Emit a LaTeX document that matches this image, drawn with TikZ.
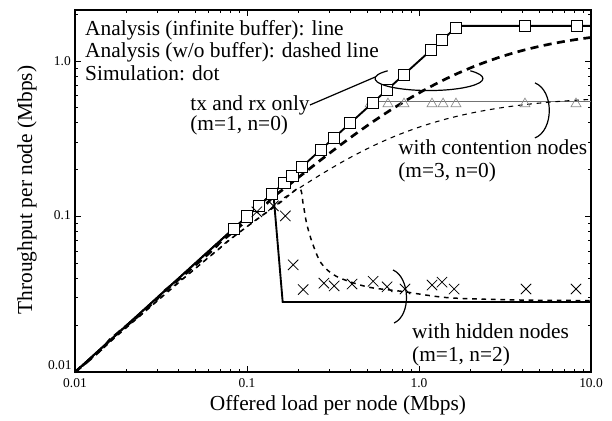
\documentclass[tikz,border=0pt]{standalone}
\usepackage{fontspec}
\setmainfont{Liberation Serif}
\usetikzlibrary{positioning, calc, shapes.misc, shapes.geometric}

\begin{document}
\begin{tikzpicture}[
    x=4.496cm, y=4.065cm,
    font=\fontsize{15.9}{16.8}\selectfont,
    declare function={lv(\v)=log10(\v)+2;},
    % Styles
    lbl/.style={inner sep=0pt, align=left},
    ticklbl/.style={font=\fontsize{10}{12}\selectfont, inner sep=0pt},
    tick/.style={line width=0.6pt},
    infbuf/.style={line width=1.4pt},
    nobuf/.style={line width=2pt, dash pattern=on 6pt off 4pt},
    nobufthin/.style={line width=0.8pt, dash pattern=on 3.5pt off 3.5pt},
    squaremark/.style={draw, fill=white, rectangle, minimum size=0.29cm, inner sep=0pt, line width=0.6pt},
    crossmark/.style={draw, cross out, minimum size=0.25cm, inner sep=0pt, line width=0.6pt},
    trianglemark/.style={draw=black!45, regular polygon, regular polygon sides=3, minimum size=0.3cm, inner sep=0pt, line width=0.5pt},
    brace/.style={line width=0.9pt}
]

    \useasboundingbox (-0.436,-0.315) rectangle (3.122,2.392);

    % --- Frame and ticks ---
    \draw[line width=1.2pt] (0,0) rectangle (3,2.328);
    \foreach \d in {0,1,2} {
        \foreach \k in {2,...,9} {
            \draw[tick] ({\d+log10(\k)},0) -- ++(0,0.02);
            \draw[tick] ({\d+log10(\k)},2.328) -- ++(0,-0.02);
        }
    }
    \foreach \d in {1,2} {
        \draw[tick] (\d,0) -- ++(0,0.04);
        \draw[tick] (\d,2.328) -- ++(0,-0.04);
        \draw[tick] (0,\d) -- ++(0.036,0);
        \draw[tick] (3,\d) -- ++(-0.036,0);
    }
    \foreach \d in {0,1} {
        \foreach \k in {2,...,9} {
            \draw[tick] (0,{\d+log10(\k)}) -- ++(0.018,0);
            \draw[tick] (3,{\d+log10(\k)}) -- ++(-0.018,0);
        }
    }
    \draw[tick] (0,{2+log10(2)}) -- ++(0.018,0);
    \draw[tick] (3,{2+log10(2)}) -- ++(-0.018,0);

    % --- Tick labels ---
    \node[ticklbl] (xt0) at (0,-0.071) {0.01};
    \node[ticklbl] (xt1) at (1,-0.071) {0.1};
    \node[ticklbl] (xt2) at (2,-0.071) {1.0};
    \node[ticklbl] (xt3) at (3,-0.071) {10.0};
    \node[ticklbl, anchor=east] (yt0) at (-0.018,0.045) {0.01};
    \node[ticklbl, anchor=east] (yt1) at (-0.023,1.01) {0.1};
    \node[ticklbl, anchor=east] (yt2) at (-0.023,2.0) {1.0};

    % --- Axis titles ---
    \node (xlabel) at (1.529,-0.212) {Offered load per node (Mbps)};
    \node[rotate=90] (ylabel) at (-0.279,1.17) {Throughput per node (Mbps)};

    % --- Analysis, infinite buffer ---
    \draw[infbuf] ({lv(0.01)},{lv(0.01)}) -- ({lv(1.68)},{lv(1.68)}) -- ({lv(10)},{lv(1.68)});
    \draw[line width=0.8pt, black!55] ({lv(0.55)},{lv(0.55)}) -- ({lv(10)},{lv(0.55)});
    \draw[infbuf] ({lv(0.01)},{lv(0.01)}) -- ({lv(0.14)},{lv(0.14)}) -- ({lv(0.16)},{lv(0.0282)}) -- ({lv(10)},{lv(0.0282)});

    % --- Analysis, w/o buffer ---
    \draw[nobuf] plot[domain=-2:1, samples=90] (\x+2, {lv(1.65*pow(10,\x)/(1.65+pow(10,\x)))});
    \draw[nobufthin] plot[domain=-2:1, samples=90] (\x+2, {lv(0.6*pow(10,\x)/(0.6+pow(10,\x)))});
    \draw[nobufthin, line width=1.1pt] plot[smooth, tension=0.5] coordinates {
        ({lv(0.01)},{lv(0.0099)}) ({lv(0.03)},{lv(0.0286)}) ({lv(0.08)},{lv(0.0706)})
        ({lv(0.15)},{lv(0.12)}) ({lv(0.2)},{lv(0.15)}) ({lv(0.212)},{lv(0.12)})
        ({lv(0.222)},{lv(0.09)}) ({lv(0.24)},{lv(0.066)}) ({lv(0.27)},{lv(0.05)})
        ({lv(0.33)},{lv(0.041)}) ({lv(0.5)},{lv(0.0347)}) ({lv(0.8)},{lv(0.0322)})
        ({lv(1.5)},{lv(0.030)}) ({lv(4)},{lv(0.029)}) ({lv(10)},{lv(0.0288)})};

    % --- Simulation ---
    \foreach \v [count=\i] in {0.52,0.66,0.818,1.19,1.38,1.64,4.13,8.18}
        \node[trianglemark] (tri\i) at ({lv(\v)},{lv(0.53)}) {};
    \foreach \v [count=\i] in {0.083,0.1,0.117,0.138,0.164,0.183,0.209,0.269,0.321,0.397,0.54,0.652,0.818,1.174,1.36,1.64}
        \node[squaremark] (sq\i) at ({lv(\v)},{lv(\v)}) {};
    \foreach \v [count=\i] in {4.13,8.29}
        \node[squaremark] (sqr\i) at ({lv(\v)},{lv(1.68)}) {};
    \foreach \a/\b [count=\i] in {0.114/0.107, 0.14/0.117, 0.166/0.1007, 0.185/0.0488, 0.212/0.0332,
            0.28/0.0368, 0.321/0.0352, 0.408/0.0363, 0.541/0.0379, 0.652/0.0347, 0.829/0.0335,
            1.19/0.0357, 1.36/0.0374, 1.6/0.0335, 4.19/0.0335, 8.18/0.0335}
        \node[crossmark] (cr\i) at ({lv(\a)},{lv(\b)}) {};

    % --- Labels ---
    \node[lbl, anchor=north west] (legend) at (0.058,2.264) {Analysis (infinite buffer): line\\Analysis (w/o buffer): dashed line\\Simulation: dot};

    \node[lbl, anchor=west] (txlbl) at (0.669,1.717) {tx and rx only};
    \node[lbl, below=0.5pt of txlbl.south west, anchor=north west] (txsub) {(m=1, n=0)};
    \coordinate (ellc) at (2.058,1.887);
    \draw[brace] ($(ellc)+(140:1.41cm and 0.314cm)$) arc[start angle=140, end angle=400, x radius=1.41cm, y radius=0.314cm];
    \draw[brace] (txlbl.east) -- ($(ellc)+(172:1.41cm and 0.314cm)$);

    \node[lbl, anchor=north west] (contlbl) at (1.878,1.495) {with contention nodes\\(m=3, n=0)};
    \coordinate (cb1) at (2.674,1.859);
    \coordinate (cb2) at (2.674,1.505);
    \draw[brace] (cb1) .. controls +(0.5cm,-0.2cm) and +(0.5cm,0.2cm) .. (cb2);

    \node[lbl, anchor=north west] (hidlbl) at (1.959,0.312) {with hidden nodes\\(m=1, n=2)};
    \coordinate (hb1) at (1.849,0.656);
    \coordinate (hb2) at (1.855,0.315);
    \draw[brace] (hb1) .. controls +(0.45cm,-0.2cm) and +(0.45cm,0.2cm) .. (hb2);

\end{tikzpicture}
\end{document}
